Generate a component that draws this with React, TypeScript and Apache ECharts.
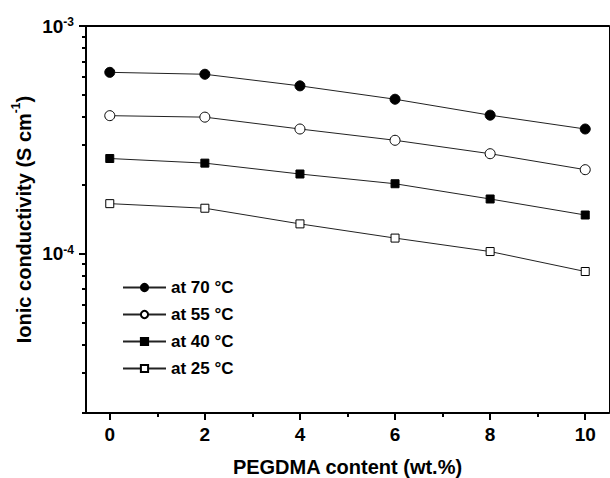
import React, { useEffect, useRef } from "react";
import * as echarts from "echarts";

const xValues = [0, 2, 4, 6, 8, 10];
const s70 = [6.26e-4, 6.14e-4, 5.46e-4, 4.77e-4, 4.06e-4, 3.53e-4];
const s55 = [4.04e-4, 3.98e-4, 3.53e-4, 3.15e-4, 2.75e-4, 2.34e-4];
const s40 = [2.62e-4, 2.5e-4, 2.24e-4, 2.03e-4, 1.74e-4, 1.48e-4];
const s25 = [1.66e-4, 1.585e-4, 1.353e-4, 1.172e-4, 1.023e-4, 8.36e-5];
const seriesNames = ["at 70 °C", "at 55 °C", "at 40 °C", "at 25 °C"];

const xMajorTicks = [0, 2, 4, 6, 8, 10];
const xMinorTicks = [1, 3, 5, 7, 9];
const yMajorTicks = [1e-4, 1e-3];
const yMajorLabels = ["-4", "-3"];
const yMinorTicks = [
  2e-5, 3e-5, 4e-5, 5e-5, 6e-5, 7e-5, 8e-5, 9e-5,
  2e-4, 3e-4, 4e-4, 5e-4, 6e-4, 7e-4, 8e-4, 9e-4,
];

const FONT = "'Liberation Sans', Arial, Helvetica, sans-serif";

export default function App() {
  const ref = useRef<HTMLDivElement>(null);
  useEffect(() => {
    if (!ref.current) return;
    const chart = echarts.init(ref.current, null, { renderer: "svg" });
    const mk = (name: string, vals: number[], symbol: string, size: number, filled: boolean) => ({
      name,
      type: "line",
      xAxisIndex: 0,
      yAxisIndex: 0,
      data: xValues.map((x, i) => [x, vals[i]]),
      symbol,
      symbolSize: size,
      showSymbol: true,
      lineStyle: { color: "#222", width: 1 },
      itemStyle: {
        color: filled ? "#000" : "#fff",
        borderColor: "#000",
        borderWidth: 1,
      },
      z: 3,
    });
    const yRange = { min: 2e-5, max: 1e-3 };
    const xRange = { min: -0.5, max: 10.5 };
    const noZero = { onZero: false };
    chart.setOption({
      animation: false,
      backgroundColor: "#fff",
      grid: { left: 86, right: 1, top: 26, bottom: 65, containLabel: false, outerBoundsMode: "none" },
      legend: {
        orient: "vertical",
        left: 122,
        top: 279,
        padding: 0,
        itemWidth: 43,
        itemHeight: 9,
        itemGap: 10,
        data: seriesNames,
        textStyle: { fontFamily: FONT, fontWeight: "bold", fontSize: 17, color: "#000", lineHeight: 17 },
      },
      xAxis: [
        {
          type: "value",
          position: "bottom",
          ...xRange,
          name: "PEGDMA content (wt.%)",
          nameLocation: "middle",
          nameGap: 44,
          nameTextStyle: { fontFamily: FONT, fontWeight: "bold", fontSize: 20, color: "#000" },
          axisLine: { show: true, ...noZero, lineStyle: { color: "#000", width: 2 } },
          axisTick: { show: true, inside: false, length: 7, customValues: xMajorTicks, lineStyle: { color: "#000", width: 2 } },
          axisLabel: { show: true, customValues: xMajorTicks, margin: 12, fontFamily: FONT, fontWeight: "bold", fontSize: 19, color: "#000" },
          splitLine: { show: false },
        },
        {
          type: "value",
          position: "bottom",
          ...xRange,
          axisLine: { show: false, ...noZero },
          axisTick: { show: true, inside: false, length: 4, customValues: xMinorTicks, lineStyle: { color: "#000", width: 2 } },
          axisLabel: { show: false },
          splitLine: { show: false },
        },
        {
          type: "value",
          position: "top",
          ...xRange,
          axisLine: { show: true, ...noZero, lineStyle: { color: "#000", width: 2 } },
          axisTick: { show: false },
          axisLabel: { show: false },
          splitLine: { show: false },
        },
      ],
      yAxis: [
        {
          type: "log",
          logBase: 10,
          position: "left",
          ...yRange,
          name: "{a|Ionic conductivity (S cm}{s|-1}{a|)}",
          nameLocation: "middle",
          nameGap: 52,
          nameRotate: 90,
          nameMoveOverlap: false,
          nameTextStyle: {
            fontFamily: FONT, fontWeight: "bold", fontSize: 20, color: "#000",
            rich: {
              a: { fontFamily: FONT, fontWeight: "bold", fontSize: 20, color: "#000", lineHeight: 24, verticalAlign: "bottom" },
              s: { fontFamily: FONT, fontWeight: "bold", fontSize: 12, color: "#000", lineHeight: 12, verticalAlign: "top" },
            },
          },
          axisLine: { show: true, ...noZero, lineStyle: { color: "#000", width: 2 } },
          axisTick: { show: true, inside: false, length: 7, customValues: yMajorTicks, lineStyle: { color: "#000", width: 2 } },
          axisLabel: {
            show: true,
            customValues: yMajorTicks,
            margin: 12,
            formatter: (v: number) => {
              const idx = yMajorTicks.findIndex((t) => Math.abs(t - v) / t < 1e-6);
              return "{b|10}{s|" + (idx >= 0 ? yMajorLabels[idx] : "") + "}";
            },
            rich: {
              b: { fontFamily: FONT, fontWeight: "bold", fontSize: 19, color: "#000", lineHeight: 20 },
              s: { fontFamily: FONT, fontWeight: "bold", fontSize: 12, color: "#000", lineHeight: 12, verticalAlign: "top" },
            },
          },
          splitLine: { show: false },
        },
        {
          type: "log",
          logBase: 10,
          position: "left",
          ...yRange,
          axisLine: { show: false, ...noZero },
          axisTick: { show: true, inside: false, length: 4, customValues: yMinorTicks, lineStyle: { color: "#000", width: 2 } },
          axisLabel: { show: false },
          splitLine: { show: false },
        },
        {
          type: "log",
          logBase: 10,
          position: "right",
          ...yRange,
          axisLine: { show: true, ...noZero, lineStyle: { color: "#000", width: 1 } },
          axisTick: { show: false },
          axisLabel: { show: false },
          splitLine: { show: false },
        },
      ],
      series: [
        mk(seriesNames[0], s70, "circle", 10, true),
        mk(seriesNames[1], s55, "circle", 10, false),
        mk(seriesNames[2], s40, "rect", 8, true),
        mk(seriesNames[3], s25, "rect", 8, false),
      ],
    });
    return () => chart.dispose();
  }, []);
  return (
    <div ref={ref} style={{ position: "fixed", left: 0, top: 0, width: 610, height: 478, background: "#fff" }} />
  );
}
